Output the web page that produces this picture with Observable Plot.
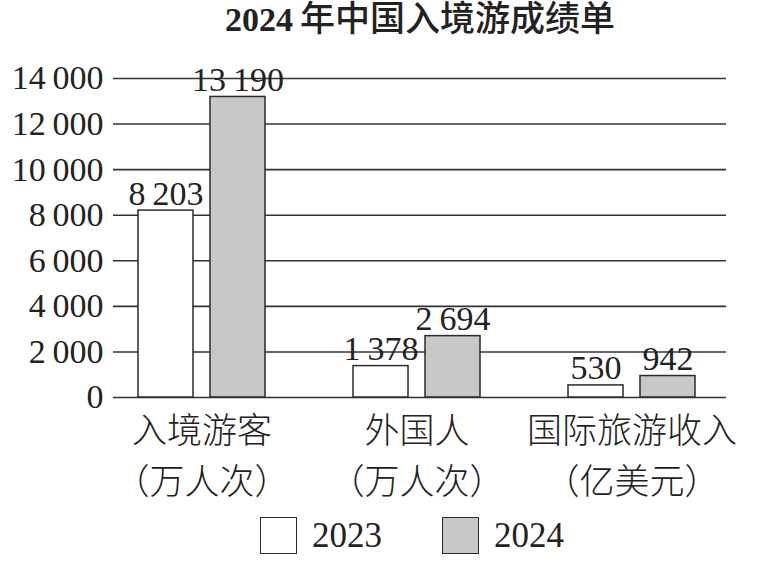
<!DOCTYPE html>
<html>
<head>
<meta charset="utf-8">
<script src="https://cdn.jsdelivr.net/npm/d3@7"></script>
<script src="https://cdn.jsdelivr.net/npm/@observablehq/plot@0.6"></script>
<style>
  html, body { margin: 0; padding: 0; background: #fff; }
  body { width: 767px; height: 561px; overflow: hidden; color: #222; }
  #title {
    height: 40px; line-height: 40px; padding-left: 225px; white-space: nowrap;
    font-family: "Liberation Serif", "Noto Sans CJK SC", sans-serif; font-size: 35px; font-weight: 500; color: #222;
  }
  #title .num { font-family: "Liberation Serif", serif; font-weight: 700; font-size: 34px; }
  #chart svg { display: block; }
  #legend {
    height: 51px; display: flex; align-items: center; padding-left: 260px;
    font-family: "Liberation Serif", serif; font-size: 35px; color: #222;
  }
  #legend .sw { width: 37px; height: 37px; box-sizing: border-box; border: 1.5px solid #2a2a2a; }
  #legend .lab { margin-left: 15px; line-height: 37px; }
</style>
</head>
<body>
<div id="title"><span class="num">2024</span>&#x2009;年中国入境游成绩单</div>
<div id="chart"></div>
<div id="legend"></div>
<script>
const categories = ["入境游客", "外国人", "国际旅游收入"];
const units = ["（万人次）", "（万人次）", "（亿美元）"];
const years = ["2023", "2024"];
const values2023 = [8203, 1378, 530];
const values2024 = [13190, 2694, 942];
const yTicks = [0, 2000, 4000, 6000, 8000, 10000, 12000, 14000];
const yearColors = ["#ffffff", "#c8c8c8"];

const fmt = d3.formatLocale({decimal: ".", thousands: "\u2009", grouping: [3], currency: ["", ""]}).format(",d");

const rows = categories.flatMap((c, i) => [
  {category: c, year: years[0], value: values2023[i]},
  {category: c, year: years[1], value: values2024[i]}
]);
const rows2023 = rows.filter(d => d.year === years[0]);
const rows2024 = rows.filter(d => d.year === years[1]);

const numFont = '"Liberation Serif", serif';
const cjkFont = '"Noto Sans CJK SC", sans-serif';

const chart = Plot.plot({
  width: 767,
  height: 470,
  marginTop: 38,
  marginBottom: 113,
  marginLeft: 113,
  marginRight: 41,
  style: {fontFamily: numFont, fontSize: "34px", color: "#222", background: "white", overflow: "visible"},
  x: {type: "band", domain: categories, paddingInner: 0.4074, paddingOuter: 0.1227, align: 0.453, axis: null},
  y: {domain: [0, 14000], label: null},
  color: {domain: years, range: yearColors},
  marks: [
    Plot.ruleY(yTicks, {stroke: "#333", strokeWidth: 1.6}),
    Plot.axisY({ticks: yTicks, tickSize: 0, tickPadding: 10, tickFormat: fmt, label: null, fontSize: 34, fontFamily: numFont, fill: "#222"}),
    Plot.barY(rows2023, {x: "category", y: "value", fill: "year", stroke: "#2a2a2a", strokeWidth: 1.5, insetRight: 72}),
    Plot.barY(rows2024, {x: "category", y: "value", fill: "year", stroke: "#2a2a2a", strokeWidth: 1.5, insetLeft: 72}),
    Plot.text(rows2023, {x: "category", y: "value", text: d => fmt(d.value), dx: -36, dy: -6, lineAnchor: "bottom", fontSize: 34, fontFamily: numFont, fill: "#222"}),
    Plot.text(rows2024, {x: "category", y: "value", text: d => fmt(d.value), dx: 36, dy: -6, lineAnchor: "bottom", fontSize: 34, fontFamily: numFont, fill: "#222"}),
    Plot.text(categories, {x: d => d, text: d => d, frameAnchor: "bottom", dy: 34, lineAnchor: "middle", fontSize: 35, fontFamily: cjkFont, fontWeight: 300, fill: "#222"}),
    Plot.text(categories, {x: d => d, text: (d, i) => units[i], frameAnchor: "bottom", dy: 85, lineAnchor: "middle", fontSize: 35, fontFamily: cjkFont, fontWeight: 300, fill: "#222"})
  ]
});
document.getElementById("chart").appendChild(chart);

const legend = document.getElementById("legend");
years.forEach((y, i) => {
  const sw = document.createElement("div");
  sw.className = "sw";
  sw.style.background = chart.scale("color").apply(y);
  if (i > 0) sw.style.marginLeft = "60px";
  const lab = document.createElement("div");
  lab.className = "lab";
  lab.textContent = y;
  legend.appendChild(sw);
  legend.appendChild(lab);
});
</script>
</body>
</html>
